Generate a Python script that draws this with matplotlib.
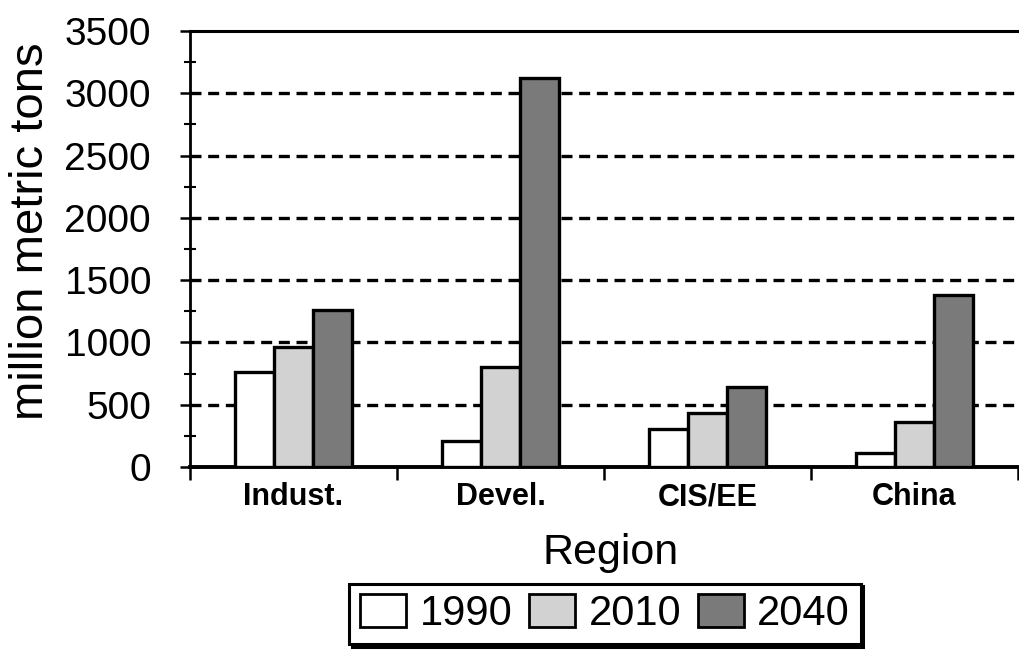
import matplotlib
matplotlib.use("Agg")
import matplotlib.pyplot as plt
import numpy as np
from matplotlib.ticker import MultipleLocator, FixedLocator, NullFormatter

plt.rcParams['font.family'] = ['Liberation Sans', 'DejaVu Sans']

categories = ["Indust.", "Devel.", "CIS/EE", "China"]
years = ["1990", "2010", "2040"]
v1990 = [760, 205, 305, 110]
v2010 = [965, 800, 435, 360]
v2040 = [1260, 3120, 640, 1380]
series = [v1990, v2010, v2040]
colors = ["white", "#d2d2d2", "#7a7a7a"]
yticks = [0, 500, 1000, 1500, 2000, 2500, 3000, 3500]

W, H = 1019, 658
fig = plt.figure(figsize=(W / 100, H / 100), dpi=100)
ax = fig.add_axes([190 / W, 1 - 467 / H, (1018 - 190) / W, (467 - 31) / H])

x = np.arange(len(categories)) + 0.5
bw = 0.19
handles = []
for i, (vals, c, yr) in enumerate(zip(series, colors, years)):
    b = ax.bar(x + (i - 1) * bw, vals, width=bw, color=c, edgecolor="black",
               linewidth=2.4, label=yr, zorder=3)
    handles.append(b)

ax.set_xlim(0, 4)
ax.set_ylim(0, 3500)

# grid
for yv in yticks[1:-1]:
    ax.axhline(yv, color="black", linewidth=2.4, dashes=(3.3, 2.0), zorder=1)

ax.yaxis.set_major_locator(FixedLocator(yticks))
ax.yaxis.set_minor_locator(MultipleLocator(250))
ax.tick_params(axis="y", which="major", direction="inout", length=14, width=1.8,
               labelsize=28, pad=21)
ax.tick_params(axis="y", which="minor", direction="inout", length=8, width=1.5)

ax.xaxis.set_major_locator(FixedLocator([0, 1, 2, 3, 4]))
ax.xaxis.set_major_formatter(NullFormatter())
ax.xaxis.set_minor_locator(FixedLocator(list(x)))
ax.set_xticklabels(categories, minor=True, fontsize=22, fontweight="bold")
ax.tick_params(axis="x", which="major", direction="out", length=9, width=1.8)
ax.tick_params(axis="x", which="minor", length=0, pad=11)

ax.spines["right"].set_visible(False)
ax.spines["top"].set_linewidth(2.2)
ax.spines["left"].set_linewidth(2.0)
ax.spines["bottom"].set_linewidth(2.8)

ax.set_ylabel("million metric tons", fontsize=34)
ax.yaxis.set_label_coords(-0.165, 0.54)
ax.set_xlabel("Region", fontsize=31)
ax.xaxis.set_label_coords(0.508, -0.152)

leg = fig.legend(handles=handles, labels=years, loc="center",
                 bbox_to_anchor=(605 / W, 1 - 614 / H), ncol=3, fontsize=30,
                 frameon=True, fancybox=False, shadow={"color": "black", "alpha": 1},
                 handlelength=1.1, handleheight=0.85, handletextpad=0.33,
                 columnspacing=0.4, borderpad=0.25, borderaxespad=0)
leg.get_frame().set_edgecolor("black")
leg.get_frame().set_linewidth(2.2)
for p in leg.get_patches():
    p.set_linewidth(2.0)

fig.savefig("out.png", dpi=100)
